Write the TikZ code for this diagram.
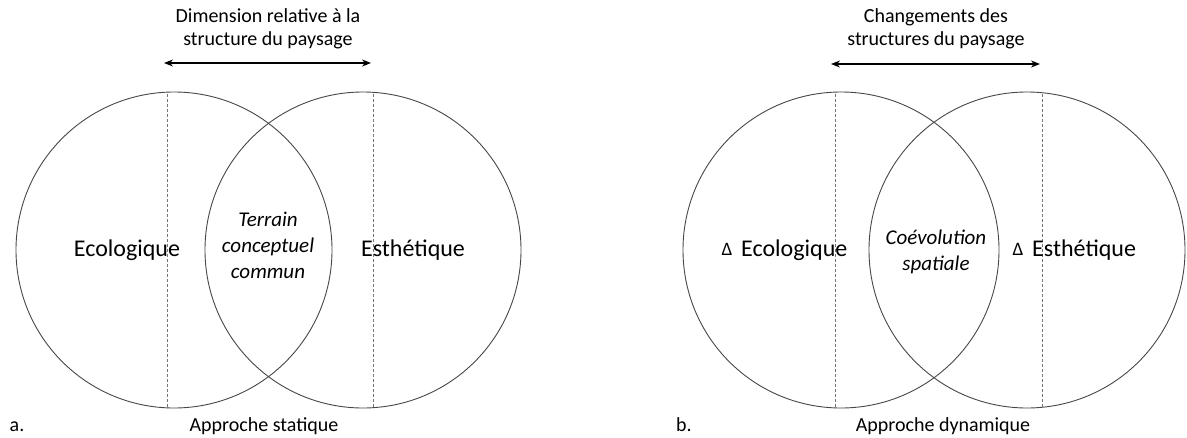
\documentclass[tikz,border=0pt]{standalone}
\usepackage{fontspec}
\setmainfont{Carlito}
\usetikzlibrary{arrows.meta}
\begin{document}
\begin{tikzpicture}[x=1pt,y=-1pt,
  circ/.style={circle, draw=black!72, line width=0.9pt, minimum size=316pt, inner sep=0pt},
  divline/.style={draw=black!55, line width=0.8pt, dash pattern=on 2.5pt off 2.5pt},
  dimarrow/.style={draw=black, line width=1.3pt, {Stealth[length=9pt,width=7pt]}-{Stealth[length=9pt,width=7pt]}},
  lbl/.style={font=\fontsize{24}{28}\selectfont, inner sep=0pt, anchor=base},
  mid/.style={font=\fontsize{21}{26}\selectfont\itshape, align=center, inner sep=0pt},
  captxt/.style={font=\fontsize{20}{23}\selectfont, align=center, inner sep=0pt},
  tri/.style={font=\fontsize{19}{22}\selectfont, inner sep=0pt, anchor=base}]
\useasboundingbox (0,0) rectangle (1187,437);
% ---- a. ----
\node[circ] (aL) at (174,250) {};
\node[circ] (aR) at (363,250) {};
\draw[divline] (167,94) -- (167,407);
\draw[divline] (373,94) -- (373,407);
\node[captxt] (atitle) at (268,29) {Dimension relative à la\\structure du paysage};
\coordinate (aal) at (164,63);
\coordinate (aar) at (371,63);
\draw[dimarrow] (aal) -- (aar);
\node[lbl] (aeco) at (127,256) {Ecologique};
\node[lbl] (aest) at (413,256) {Esthétique};
\node[mid] (aterr) at (268,245) {Terrain\\conceptuel\\commun};
\node[captxt, anchor=base] (alab) at (17,431) {a.};
\node[captxt, anchor=base] (aappr) at (264,431) {Approche statique};
% ---- b. ----
\node[circ] (bL) at (841,250) {};
\node[circ] (bR) at (1027,250) {};
\draw[divline] (835,94) -- (835,407);
\draw[divline] (1042,94) -- (1042,407);
\node[captxt] (btitle) at (936,29) {Changements des\\structures du paysage};
\coordinate (bal) at (831,64);
\coordinate (bar) at (1040,64);
\draw[dimarrow] (bal) -- (bar);
\node[tri] (bd1) at (727,255) {Δ};
\node[lbl, anchor=base west] (beco) at (741,256) {Ecologique};
\node[tri] (bd2) at (1018,255) {Δ};
\node[lbl, anchor=base west] (best) at (1032,256) {Esthétique};
\node[mid] (bcoev) at (936,252) {Coévolution\\spatiale};
\node[captxt, anchor=base] (blab) at (684,431) {b.};
\node[captxt, anchor=base] (bappr) at (943,431) {Approche dynamique};
\end{tikzpicture}
\end{document}
